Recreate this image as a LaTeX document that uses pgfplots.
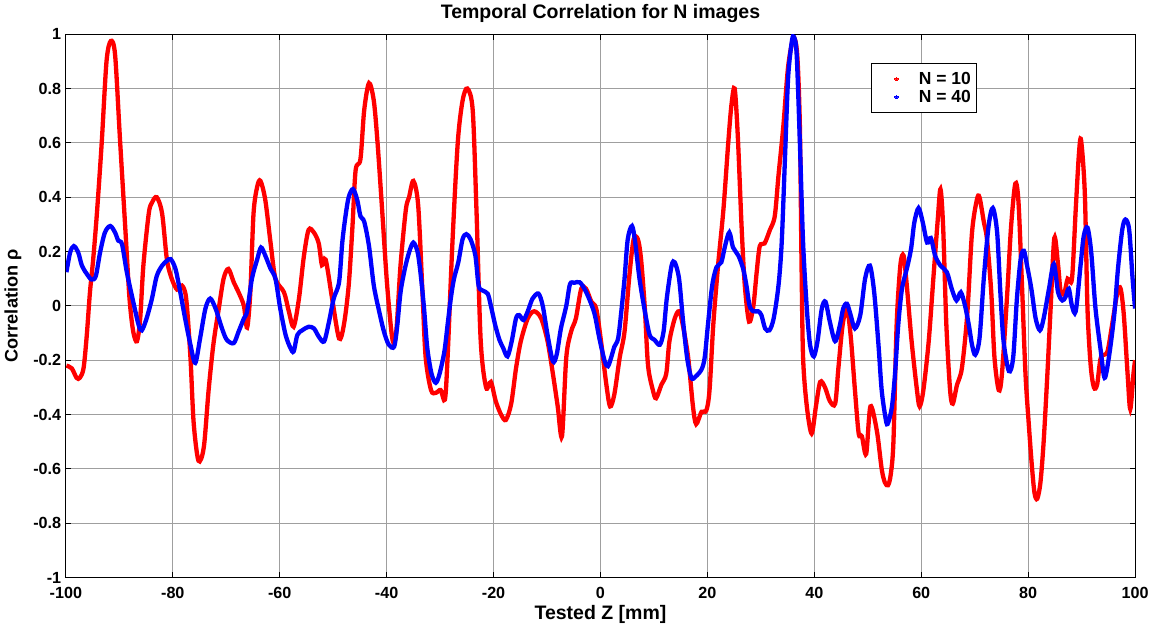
\documentclass[border=0pt]{standalone}
\usepackage{fontspec}
\setmainfont{Liberation Sans}
\usepackage{pgfplots}
\pgfplotsset{compat=1.18}
\begin{document}
\begin{tikzpicture}
\begin{axis}[
  width=795pt, height=404pt, scale only axis,
  xmin=-100, xmax=100, ymin=-1, ymax=1,
  xtick={-100,-80,...,100},
  ytick={-1,-0.8,...,1.01},
  /pgf/number format/assume math mode=true,
  yticklabel style={/pgf/number format/fixed},
  xticklabel style={yshift=-3.5pt},
  tick label style={font=\fontsize{12}{14}\selectfont\bfseries},
  grid=major,
  major grid style={gray!75, line width=0.6pt},
  axis line style={black, line width=0.6pt},
  tick style={black, line width=0.6pt},
  major tick length=4pt,
  title={Temporal Correlation for N images},
  title style={font=\fontsize{14.5}{16}\selectfont\bfseries, yshift=-1pt},
  xlabel={Tested Z [mm]},
  ylabel={Correlation ρ},
  xlabel style={font=\fontsize{14.5}{16}\selectfont\bfseries, yshift=2pt},
  ylabel style={font=\fontsize{13.5}{15}\selectfont\bfseries, yshift=2pt},
  legend style={at={(axis cs:50.6,0.895)}, anchor=north west, draw=black, line width=0.8pt,
     font=\fontsize{13}{15}\selectfont\bfseries, inner xsep=0pt, inner ysep=5pt,
     row sep=0pt, nodes={inner xsep=4pt, inner ysep=1.4pt},
     cells={anchor=west}},
  legend cell align=left,
  legend image code/.code={\path (0,0) (28pt,0); \fill[#1, line width=0pt] (17pt,0) circle (1.2pt);},
]
\addplot[red, line width=3.2pt, smooth, tension=0.5] coordinates {
(-99.9,-0.22)(-98.9,-0.23)(-98.0,-0.265)(-97.4,-0.265)(-96.7,-0.23)(-96.1,-0.11)(-95.5,0.05)(-94.9,0.17)(-94.2,0.34)(-93.3,0.60)(-92.4,0.90)(-91.6,0.975)(-90.8,0.925)(-89.9,0.62)(-88.9,0.29)(-88.1,0.027)(-87.4,-0.095)(-86.7,-0.13)(-86.1,-0.046)(-85.5,0.15)(-84.5,0.34)(-83.9,0.38)(-83.0,0.40)(-82.0,0.34)(-81.1,0.17)(-80.2,0.10)(-79.2,0.06)(-78.3,0.075)(-77.5,0.027)(-76.7,-0.19)(-76.1,-0.43)(-75.2,-0.57)(-74.2,-0.52)(-73.3,-0.31)(-72.4,-0.14)(-71.4,-0.01)(-70.5,0.10)(-69.6,0.136)(-68.6,0.087)(-67.7,0.05)(-66.7,0.0)(-66.1,-0.08)(-65.5,0.05)(-64.9,0.34)(-64.2,0.44)(-63.6,0.46)(-62.7,0.39)(-61.7,0.23)(-60.8,0.10)(-59.2,0.05)(-58.3,-0.02)(-57.4,-0.077)(-56.4,0.027)(-55.5,0.18)(-54.6,0.28)(-53.6,0.27)(-52.7,0.23)(-52.1,0.15)(-51.4,0.17)(-50.2,0.027)(-48.9,-0.12)(-48.0,-0.07)(-47.1,0.075)(-46.4,0.29)(-45.8,0.50)(-44.9,0.54)(-44.2,0.72)(-43.3,0.82)(-42.4,0.755)(-41.7,0.60)(-40.8,0.34)(-39.9,0.075)(-38.9,-0.125)(-38.2,-0.095)(-37.4,0.15)(-36.4,0.355)(-35.8,0.40)(-35.0,0.46)(-34.1,0.37)(-33.3,0.05)(-32.7,-0.19)(-31.7,-0.31)(-30.8,-0.32)(-29.9,-0.31)(-29.1,-0.345)(-28.6,-0.19)(-27.7,0.23)(-26.7,0.60)(-25.8,0.755)(-24.9,0.80)(-23.9,0.72)(-23.2,0.355)(-22.4,-0.13)(-21.4,-0.30)(-20.5,-0.28)(-19.6,-0.35)(-18.6,-0.40)(-17.7,-0.42)(-16.7,-0.36)(-15.8,-0.23)(-14.9,-0.13)(-13.6,-0.046)(-12.4,-0.02)(-11.1,-0.046)(-9.9,-0.13)(-8.9,-0.25)(-8.0,-0.37)(-7.2,-0.48)(-6.4,-0.19)(-5.5,-0.095)(-4.6,-0.046)(-3.6,0.063)(-2.7,0.063)(-1.7,0.015)(-0.8,-0.01)(0.1,-0.13)(1.1,-0.29)(1.8,-0.37)(2.6,-0.325)(3.6,-0.19)(4.5,-0.095)(5.4,0.11)(6.2,0.245)(7.0,0.245)(7.6,0.17)(8.3,-0.01)(8.9,-0.22)(9.8,-0.31)(10.4,-0.34)(11.4,-0.29)(12.3,-0.25)(12.9,-0.13)(13.9,-0.046)(14.7,-0.02)(15.4,-0.07)(16.4,-0.19)(17.3,-0.37)(17.9,-0.435)(18.9,-0.39)(19.8,-0.385)(20.4,-0.31)(21.1,-0.07)(22.0,0.15)(23.0,0.355)(23.9,0.60)(24.5,0.74)(25.1,0.80)(25.7,0.62)(26.4,0.29)(27.0,0.075)(27.8,-0.058)(28.6,0.0)(29.2,0.12)(29.8,0.22)(30.7,0.23)(31.7,0.28)(32.6,0.33)(33.3,0.48)(34.2,0.66)(35.1,0.88)(36.1,0.985)(36.8,0.925)(37.3,0.66)(37.6,0.17)(37.9,-0.19)(38.6,-0.37)(39.5,-0.47)(40.3,-0.37)(41.1,-0.28)(42.0,-0.30)(42.9,-0.35)(43.9,-0.36)(44.5,-0.23)(45.3,-0.07)(46.1,-0.01)(46.8,-0.11)(47.6,-0.31)(48.3,-0.47)(48.9,-0.48)(49.7,-0.545)(50.5,-0.37)(51.7,-0.46)(52.6,-0.60)(53.2,-0.65)(53.8,-0.66)(54.3,-0.62)(54.8,-0.5)(55.4,-0.07)(56.1,0.15)(56.7,0.185)(57.3,0.075)(58.2,-0.13)(59.2,-0.31)(59.7,-0.37)(60.4,-0.31)(61.4,-0.13)(62.3,0.11)(63.1,0.32)(63.6,0.43)(64.1,0.29)(64.7,-0.07)(65.4,-0.31)(65.9,-0.36)(66.7,-0.29)(67.6,-0.23)(68.6,-0.034)(69.5,0.27)(70.4,0.39)(70.9,0.40)(71.7,0.31)(72.3,0.245)(73.1,0.05)(73.7,-0.19)(74.5,-0.31)(75.1,-0.25)(76.1,0.05)(76.8,0.29)(77.6,0.45)(78.2,0.38)(78.9,0.05)(79.5,-0.25)(80.1,-0.43)(80.7,-0.59)(81.2,-0.69)(81.7,-0.71)(82.3,-0.65)(82.9,-0.5)(83.6,-0.25)(84.2,-0.01)(84.9,0.25)(85.6,0.15)(86.1,0.05)(86.8,0.05)(87.4,0.10)(88.2,0.10)(88.9,0.355)(89.5,0.56)(89.9,0.61)(90.6,0.415)(91.1,-0.01)(91.7,-0.22)(92.3,-0.30)(92.9,-0.29)(93.6,-0.19)(94.8,-0.17)(95.7,-0.07)(96.7,0.05)(97.3,0.063)(97.9,-0.034)(98.6,-0.25)(99.1,-0.38)(99.7,-0.25)(100,-0.2)
};
\addlegendentry{N = 10}
\addplot[blue, line width=3.2pt, smooth, tension=0.5] coordinates {
(-99.9,0.124)(-99.2,0.197)(-98.5,0.22)(-97.7,0.197)(-97.0,0.148)(-96.1,0.118)(-95.2,0.097)(-94.4,0.11)(-93.6,0.197)(-92.7,0.27)(-91.7,0.294)(-90.8,0.27)(-90.2,0.24)(-89.5,0.227)(-88.6,0.124)(-87.4,0.015)(-86.4,-0.07)(-85.8,-0.09)(-84.9,-0.046)(-83.9,0.027)(-83.0,0.11)(-82.0,0.148)(-81.1,0.166)(-80.4,0.172)(-79.5,0.136)(-78.6,0.05)(-77.7,-0.046)(-76.7,-0.143)(-75.8,-0.21)(-74.9,-0.12)(-73.9,-0.01)(-73.0,0.027)(-72.0,-0.01)(-70.8,-0.083)(-69.9,-0.125)(-68.6,-0.137)(-67.7,-0.095)(-66.7,-0.046)(-66.1,-0.02)(-65.2,0.10)(-64.2,0.172)(-63.5,0.215)(-62.7,0.185)(-61.7,0.136)(-60.8,0.10)(-59.9,-0.01)(-58.9,-0.107)(-58.0,-0.155)(-57.4,-0.168)(-56.7,-0.107)(-55.8,-0.09)(-54.6,-0.077)(-53.6,-0.083)(-52.7,-0.113)(-51.7,-0.131)(-50.8,-0.06)(-49.9,0.027)(-48.9,0.087)(-48.3,0.233)(-47.7,0.33)(-47.1,0.40)(-46.3,0.43)(-45.5,0.39)(-44.9,0.33)(-44.2,0.31)(-43.3,0.22)(-42.4,0.075)(-41.4,-0.02)(-40.5,-0.095)(-39.6,-0.143)(-38.6,-0.15)(-38.0,-0.07)(-37.4,0.05)(-36.6,0.136)(-35.8,0.197)(-35.0,0.233)(-34.2,0.197)(-33.6,0.11)(-33.0,-0.01)(-32.4,-0.155)(-31.6,-0.25)(-30.8,-0.283)(-30.1,-0.25)(-29.2,-0.168)(-28.6,-0.07)(-28.0,0.027)(-27.4,0.10)(-26.6,0.16)(-25.8,0.245)(-25.1,0.264)(-24.3,0.245)(-23.4,0.185)(-22.8,0.075)(-22.1,0.057)(-21.1,0.045)(-20.5,0.0)(-19.7,-0.07)(-18.9,-0.125)(-18.2,-0.155)(-17.4,-0.186)(-16.6,-0.13)(-15.8,-0.046)(-15.2,-0.034)(-14.4,-0.052)(-13.6,-0.02)(-12.7,0.027)(-11.6,0.045)(-10.8,0.0)(-9.9,-0.107)(-8.9,-0.204)(-8.2,-0.18)(-7.4,-0.083)(-6.4,0.0)(-5.7,0.08)(-4.9,0.085)(-3.9,0.087)(-3.0,0.063)(-2.1,0.025)(-1.1,-0.03)(-0.2,-0.12)(0.8,-0.204)(1.4,-0.222)(2.0,-0.19)(2.6,-0.15)(3.3,-0.12)(3.9,-0.02)(4.5,0.10)(5.1,0.245)(5.9,0.294)(6.5,0.233)(7.3,0.10)(8.3,-0.02)(9.2,-0.107)(10.1,-0.125)(11.1,-0.143)(11.8,-0.095)(12.4,0.027)(13.3,0.148)(13.9,0.16)(14.7,0.10)(15.4,-0.046)(16.2,-0.19)(17.0,-0.265)(17.8,-0.26)(18.9,-0.234)(19.5,-0.19)(20.1,-0.07)(20.9,0.075)(21.7,0.142)(22.6,0.16)(23.3,0.22)(24.1,0.27)(24.8,0.215)(25.8,0.185)(26.7,0.136)(27.3,0.075)(27.9,0.0)(28.6,-0.02)(29.5,-0.02)(30.1,-0.034)(30.8,-0.083)(31.6,-0.09)(32.4,-0.046)(33.3,0.075)(33.9,0.233)(34.5,0.537)(35.1,0.84)(35.8,0.974)(36.2,0.99)(36.7,0.925)(37.3,0.60)(37.9,0.233)(38.6,-0.01)(39.2,-0.143)(39.9,-0.186)(40.6,-0.13)(41.4,-0.01)(42.1,0.015)(42.9,-0.058)(43.9,-0.13)(44.8,-0.07)(45.4,-0.01)(46.1,0.008)(46.8,-0.034)(47.6,-0.083)(48.6,-0.034)(49.5,0.10)(50.4,0.148)(51.2,0.05)(52.0,-0.143)(52.6,-0.31)(53.3,-0.41)(53.7,-0.435)(54.5,-0.374)(55.1,-0.25)(55.7,-0.07)(56.4,0.063)(57.3,0.136)(58.1,0.21)(58.7,0.306)(59.5,0.36)(60.3,0.306)(61.1,0.233)(61.8,0.25)(62.6,0.185)(63.6,0.148)(64.8,0.124)(65.7,0.063)(66.6,0.02)(67.4,0.05)(68.2,0.0)(68.9,-0.07)(69.5,-0.143)(70.1,-0.18)(70.9,-0.12)(71.7,0.10)(72.6,0.294)(73.4,0.36)(74.2,0.27)(74.8,0.05)(75.4,-0.13)(76.4,-0.24)(77.2,-0.19)(77.9,0.027)(78.6,0.172)(79.2,0.203)(79.8,0.148)(80.6,0.063)(81.4,-0.046)(82.2,-0.09)(82.9,-0.046)(83.9,0.063)(84.8,0.154)(85.6,0.05)(86.4,0.02)(87.0,0.033)(87.6,0.063)(88.2,0.0)(88.9,-0.02)(89.8,0.148)(90.4,0.257)(91.1,0.288)(91.8,0.197)(92.6,-0.01)(93.6,-0.168)(94.3,-0.265)(95.1,-0.19)(96.1,-0.034)(96.8,0.136)(97.6,0.28)(98.2,0.318)(98.9,0.28)(99.5,0.11)(100,-0.01)
};
\addlegendentry{N = 40}
\end{axis}
\end{tikzpicture}
\end{document}
